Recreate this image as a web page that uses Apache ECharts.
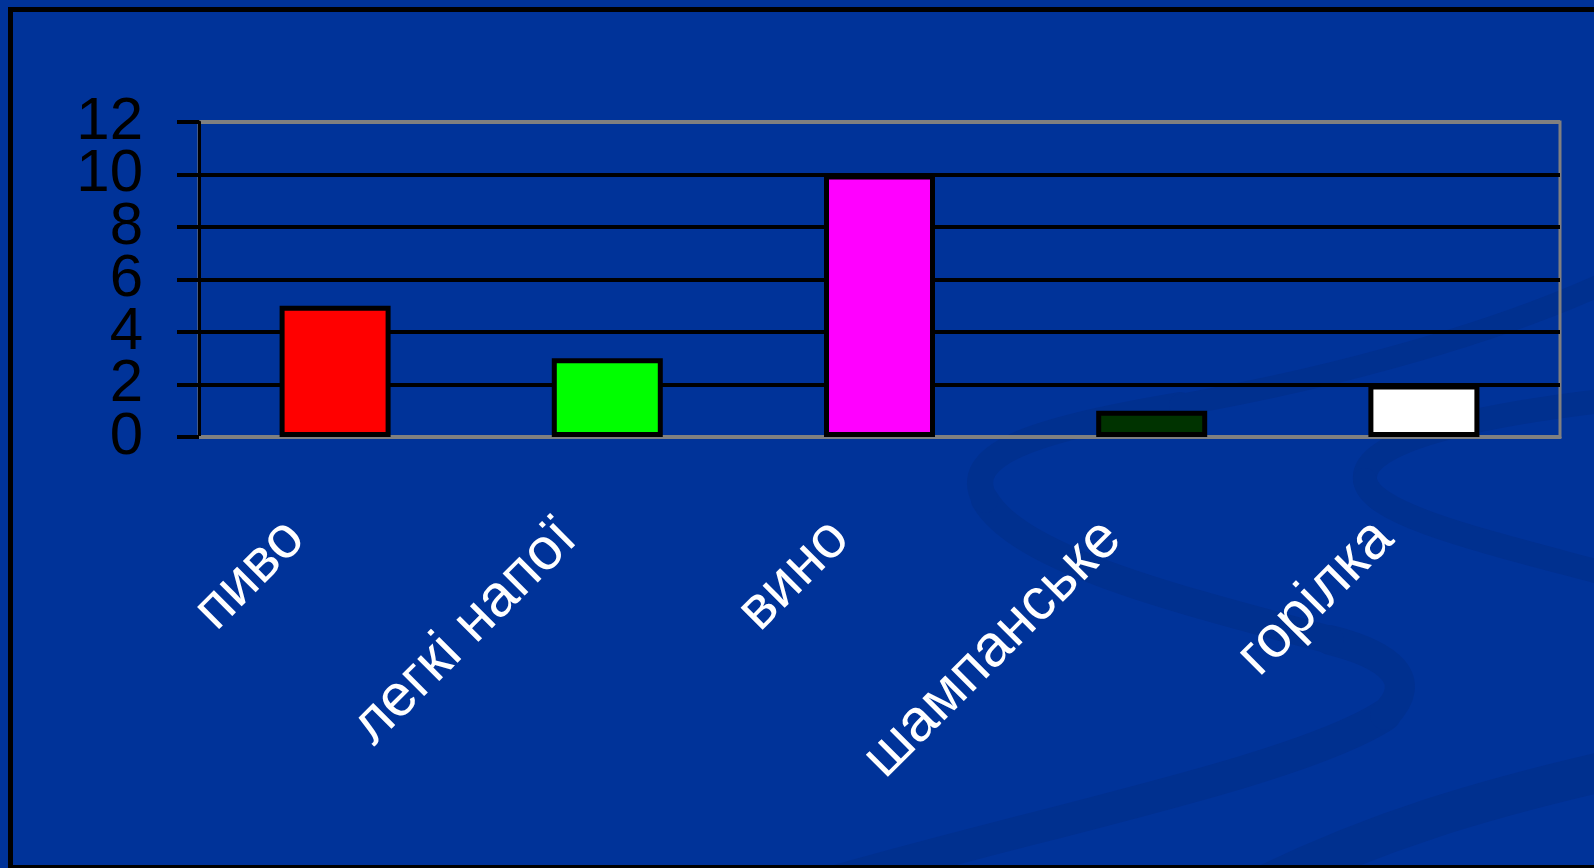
<!DOCTYPE html>
<html>
<head>
<meta charset="utf-8">
<script src="https://cdn.jsdelivr.net/npm/echarts@6/dist/echarts.min.js"></script>
<style>
html,body{margin:0;padding:0;background:#003399;}
#chart{width:1594px;height:868px;}
</style>
</head>
<body>
<div id="chart"></div>
<script>
const categories = ['пиво', 'легкі напої', 'вино', 'шампанське', 'горілка'];
const values = [5, 3, 10, 1, 2];
const barColors = ['#FF0000', '#00FF00', '#FF00FF', '#003300', '#FFFFFF'];
const yMin = 0, yMax = 12, yStep = 2;

const chart = echarts.init(document.getElementById('chart'), null, {renderer: 'canvas'});
const swoosh = '#00308F';
function curve(p, w) {
  return {type: 'bezierCurve', z: -5, silent: true,
    shape: {x1: p[0], y1: p[1], cpx1: p[2], cpy1: p[3], cpx2: p[4], cpy2: p[5], x2: p[6], y2: p[7]},
    style: {fill: null, stroke: swoosh, lineWidth: w, lineCap: 'round'}};
}
const yLabelBase = {
  color: '#000000', fontFamily: 'Liberation Sans, Arial, sans-serif',
  fontSize: 60, margin: 56, showMinLabel: true, showMaxLabel: true, hideOverlap: false
};
chart.setOption({
  animation: false,
  backgroundColor: '#003399',
  graphic: [
    curve([840, 880, 1050, 820, 1300, 770, 1385, 715], 32),
    curve([1385, 715, 1420, 680, 1390, 655, 1330, 640], 30),
    curve([1330, 640, 1180, 600, 1020, 560, 985, 500], 28),
    curve([985, 500, 960, 455, 1030, 430, 1180, 405], 26),
    curve([1180, 405, 1350, 375, 1500, 330, 1600, 285], 22),
    curve([1265, 885, 1380, 830, 1480, 800, 1610, 770], 40),
    curve([1610, 400, 1480, 415, 1360, 440, 1365, 480], 24),
    curve([1365, 480, 1370, 515, 1480, 540, 1610, 575], 24),
    {type: 'rect', z: 100, silent: true,
     shape: {x: 10.5, y: 9.5, width: 1640, height: 858},
     style: {fill: null, stroke: '#000000', lineWidth: 5}}
  ],
  grid: {
    left: 199, right: 34, top: 122, bottom: 431,
    show: true, borderColor: '#808080', borderWidth: 3,
    backgroundColor: 'transparent'
  },
  xAxis: {
    type: 'category',
    data: categories,
    axisLine: {show: true, lineStyle: {color: '#808080', width: 3}},
    axisTick: {show: false},
    axisLabel: {
      interval: 0, rotate: 45, color: '#FFFFFF',
      fontFamily: 'Liberation Sans, Arial, sans-serif', fontSize: 59,
      margin: 53, padding: [0, 56, 0, 0]
    },
    splitLine: {show: false}
  },
  yAxis: [{
    type: 'value', min: yMin, max: yMax, interval: yStep, position: 'left',
    axisLine: {show: true, lineStyle: {color: '#000000', width: 3}},
    axisTick: {show: true, length: 22, lineStyle: {color: '#000000', width: 4}},
    axisLabel: Object.assign({}, yLabelBase, {
      formatter: v => (v % (2 * yStep) === 0 ? String(v) : '')
    }),
    splitLine: {show: true, lineStyle: {
      color: ['#808080', '#000000', '#000000', '#000000', '#000000', '#000000', '#808080'],
      width: 4}}
  }, {
    type: 'value', min: yMin, max: yMax, interval: yStep, position: 'left', offset: 0,
    axisLine: {show: false},
    axisTick: {show: false},
    splitLine: {show: false},
    axisLabel: Object.assign({}, yLabelBase, {
      formatter: v => (v % (2 * yStep) !== 0 ? String(v) : '')
    })
  }],
  series: [{
    type: 'bar',
    yAxisIndex: 0,
    barWidth: 111,
    data: values.map((v, i) => ({value: v, itemStyle: {color: barColors[i]}})),
    itemStyle: {borderColor: '#000000', borderWidth: 5}
  }]
});
</script>
</body>
</html>
